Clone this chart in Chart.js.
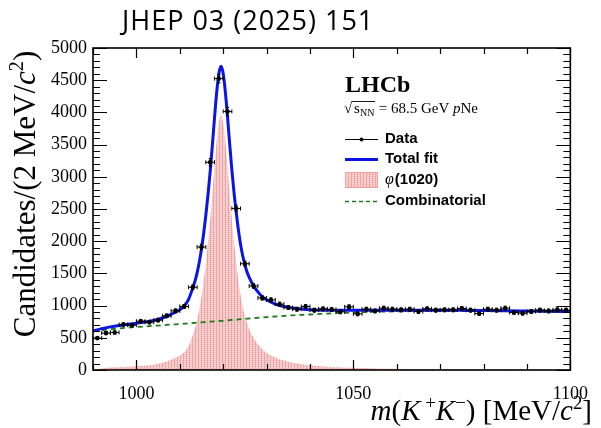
<!DOCTYPE html>
<html>
<head>
<meta charset="utf-8">
<script src="https://cdn.jsdelivr.net/npm/chart.js@4.4.1/dist/chart.umd.min.js"></script>
<style>
  html, body { margin: 0; padding: 0; background: #fff; }
  #wrap { position: relative; width: 601px; height: 428px; }
</style>
</head>
<body>
<div id="wrap"><canvas id="massChart" width="601" height="428"></canvas></div>
<script>
// m(K+K-) bin centres [MeV/c^2], 2 MeV bins
const binCentres = [991, 993, 995, 997, 999, 1001, 1003, 1005, 1007, 1009,
    1011, 1013, 1015, 1017, 1019, 1021, 1023, 1025, 1027, 1029,
    1031, 1033, 1035, 1037, 1039, 1041, 1043, 1045, 1047, 1049,
    1051, 1053, 1055, 1057, 1059, 1061, 1063, 1065, 1067, 1069,
    1071, 1073, 1075, 1077, 1079, 1081, 1083, 1085, 1087, 1089,
    1091, 1093, 1095, 1097, 1099];
const candidates = [495, 573, 583, 707, 696, 758, 743, 774, 841, 918,
    986, 1285, 1909, 3225, 4525, 4015, 2508, 1650, 1305, 1119,
    1088, 1022, 970, 944, 986, 929, 949, 939, 903, 980,
    872, 944, 917, 960, 944, 934, 944, 908, 950, 929,
    934, 934, 955, 929, 877, 944, 929, 960, 893, 882,
    908, 929, 917, 934, 929];

// fit curves sampled along the mass axis
const fitMass = [990, 992, 994, 996, 998, 1000, 1002, 1004, 1006, 1008,
    1010, 1011, 1012, 1013, 1013.5, 1014, 1014.5, 1015, 1015.5, 1016,
    1016.5, 1017, 1017.5, 1018, 1018.5, 1019, 1019.5, 1020, 1020.5, 1021,
    1021.5, 1022, 1022.5, 1023, 1023.5, 1024, 1024.5, 1025, 1025.5, 1026,
    1027, 1028, 1029, 1030, 1032, 1034, 1036, 1038, 1040, 1045,
    1050, 1055, 1060, 1065, 1070, 1075, 1080, 1085, 1090, 1095, 1100];
const totalFit = [605, 642, 670, 692, 709, 726, 745, 768, 807, 865,
    936, 994, 1094, 1274, 1379, 1513, 1677, 1881, 2120, 2400,
    2721, 3080, 3485, 3913, 4309, 4600, 4717, 4605, 4320, 3929,
    3507, 3107, 2754, 2455, 2179, 1954, 1774, 1637, 1523, 1438,
    1306, 1213, 1139, 1090, 1024, 986, 963, 947, 936, 928,
    927, 928, 929, 929, 928, 926, 924, 921, 917, 913, 908];
const phiFit = [5, 25, 38, 47, 52, 58, 68, 82, 112, 160,
    222, 275, 370, 545, 647, 778, 940, 1141, 1378, 1655,
    1974, 2330, 2733, 3158, 3552, 3840, 3955, 3840, 3552, 3158,
    2733, 2330, 1974, 1672, 1393, 1165, 982, 842, 726, 638,
    500, 402, 322, 268, 193, 146, 114, 91, 74, 48,
    34, 25, 19, 15, 12, 10, 9, 8, 7, 6, 5];
const combFit = [600, 617, 632, 645, 657, 668, 677, 686, 695, 705,
    714, 719, 724, 729, 732, 735, 737, 740, 742, 745,
    747, 750, 752, 755, 757, 760, 762, 765, 768, 771,
    774, 777, 780, 783, 786, 789, 792, 795, 797, 800,
    806, 811, 817, 822, 831, 840, 849, 856, 862, 880,
    893, 903, 910, 914, 916, 916, 915, 913, 910, 907, 903];

const xTickLabels = [1000, 1050, 1100];

const SERIF = '"Liberation Serif", "Times New Roman", serif';
const SANS = '"Liberation Sans", Arial, sans-serif';

// pink hatched fill like the ROOT pattern
function makePattern() {
    const pc = document.createElement('canvas');
    pc.width = 3; pc.height = 2;
    const p = pc.getContext('2d');
    p.fillStyle = '#f8cccc'; p.fillRect(0, 0, 3, 2);
    p.fillStyle = '#f0a4a4'; p.fillRect(0, 0, 1, 2);
    p.fillStyle = '#f4b6b6'; p.fillRect(2, 0, 1, 1);
    p.fillStyle = '#fce2e2'; p.fillRect(2, 1, 1, 1);
    return document.getElementById('massChart').getContext('2d').createPattern(pc, 'repeat');
}
const pinkFill = makePattern();

function pts(xs, ys) {
    return xs.map((x, i) => ({ x: x, y: ys[i] }));
}

// text with italic / superscript / subscript pieces
function drawRich(ctx, parts, x, y, size, align) {
    let w = 0;
    const items = parts.map(([t, s]) => {
        const small = s.includes('sup') || s.includes('sub');
        const fs = small ? size * 0.65 : size;
        const font = (s.startsWith('i') ? 'italic ' : '') + fs + 'px ' + SERIF;
        ctx.font = font;
        const dy = s.includes('sup') ? -size * 0.38 : s.includes('sub') ? size * 0.2 : 0;
        const it = { t: t, font: font, dx: w, dy: dy };
        w += ctx.measureText(t).width;
        return it;
    });
    const x0 = align === 'right' ? x - w : align === 'center' ? x - w / 2 : x;
    items.forEach(it => {
        ctx.font = it.font;
        ctx.fillText(it.t, x0 + it.dx, y + it.dy);
    });
    return w;
}

const errorBars = {
    id: 'errorBars',
    afterDatasetsDraw(chart) {
        const ctx = chart.ctx, xs = chart.scales.x, ys = chart.scales.y;
        ctx.save();
        ctx.strokeStyle = '#000';
        ctx.lineWidth = 1;
        binCentres.forEach((m, i) => {
            const n = candidates[i], e = Math.sqrt(n);
            const px = xs.getPixelForValue(m), py = ys.getPixelForValue(n);
            const xl = xs.getPixelForValue(m - 1), xr = xs.getPixelForValue(m + 1);
            const yt = ys.getPixelForValue(n + e), yb = ys.getPixelForValue(n - e);
            ctx.beginPath();
            ctx.moveTo(xl, py); ctx.lineTo(xr, py);
            ctx.moveTo(xl, py - 2); ctx.lineTo(xl, py + 2);
            ctx.moveTo(xr, py - 2); ctx.lineTo(xr, py + 2);
            ctx.moveTo(px, yt); ctx.lineTo(px, yb);
            ctx.moveTo(px - 1.5, yt); ctx.lineTo(px + 1.5, yt);
            ctx.moveTo(px - 1.5, yb); ctx.lineTo(px + 1.5, yb);
            ctx.stroke();
        });
        ctx.restore();
    }
};

const frameAndText = {
    id: 'frameAndText',
    afterDraw(chart) {
        const ctx = chart.ctx, xs = chart.scales.x, ys = chart.scales.y;
        const a = chart.chartArea;
        ctx.save();
        ctx.strokeStyle = '#000';
        ctx.fillStyle = '#000';

        // ticks inside the frame on all four sides
        ctx.lineWidth = 1.2;
        ctx.beginPath();
        for (let v = 990; v <= 1100; v += 10) {
            const px = Math.round(xs.getPixelForValue(v)) + 0.5;
            const len = v % 50 === 0 ? 10 : 6;
            ctx.moveTo(px, a.bottom); ctx.lineTo(px, a.bottom - len);
            ctx.moveTo(px, a.top); ctx.lineTo(px, a.top + len);
        }
        for (let v = 0; v <= 5000; v += 100) {
            const py = Math.round(ys.getPixelForValue(v)) + 0.5;
            const len = v % 500 === 0 ? 14 : 7;
            ctx.moveTo(a.left, py); ctx.lineTo(a.left + len, py);
            ctx.moveTo(a.right, py); ctx.lineTo(a.right - len, py);
        }
        ctx.stroke();
        ctx.lineWidth = 1.6;
        ctx.strokeRect(a.left, a.top, a.right - a.left, a.bottom - a.top);

        // page title
        ctx.font = '27px "Open Sans", sans-serif';
        ctx.textBaseline = 'alphabetic';
        ctx.letterSpacing = '1px';
        ctx.fillText('JHEP 03 (2025) 151', 122, 30);
        ctx.letterSpacing = '0px';

        // axis titles
        drawRich(ctx, [['m', 'i'], ['(', ''], ['K', 'i'], [' +', 'sup'], ['K', 'i'], ['\u2212', 'sup'],
            [') [MeV/', ''], ['c', 'i'], ['2', 'sup'], [']', '']], 592, 420, 29, 'right');
        ctx.save();
        ctx.translate(35, 194);
        ctx.rotate(-Math.PI / 2);
        drawRich(ctx, [['Candidates/(2 MeV/', ''], ['c', 'i'], ['2', 'sup'], [')', '']], 0, 0, 31, 'center');
        ctx.restore();

        // LHCb label
        ctx.font = 'bold 24px ' + SERIF;
        ctx.fillText('LHCb', 345, 92);
        ctx.font = '15px ' + SERIF;
        ctx.fillText('\u221A', 344, 113);
        const sx = 354;
        ctx.font = '15px ' + SERIF;
        ctx.fillText('s', sx, 113);
        ctx.font = '10px ' + SERIF;
        ctx.fillText('NN', sx + 6, 116);
        ctx.lineWidth = 0.9;
        ctx.beginPath();
        ctx.moveTo(352, 101.5); ctx.lineTo(sx + 21, 101.5);
        ctx.stroke();
        drawRich(ctx, [[' = 68.5 GeV ', ''], ['p', 'i'], ['Ne', '']], sx + 21, 113, 15, 'left');

        // legend
        const lx0 = 345, lx1 = 378, tx = 385;
        ctx.font = 'bold 15px ' + SANS;
        ctx.textBaseline = 'middle';
        // Data
        ctx.lineWidth = 1;
        ctx.beginPath(); ctx.moveTo(lx0, 139.5); ctx.lineTo(lx1, 139.5); ctx.stroke();
        ctx.beginPath(); ctx.arc((lx0 + lx1) / 2, 139.5, 2, 0, Math.PI * 2); ctx.fill();
        ctx.fillText('Data', tx, 139);
        // Total fit
        ctx.strokeStyle = '#0a14e6';
        ctx.lineWidth = 3;
        ctx.beginPath(); ctx.moveTo(lx0, 159.5); ctx.lineTo(lx1, 159.5); ctx.stroke();
        ctx.fillText('Total fit', tx, 159);
        // phi(1020)
        ctx.fillStyle = pinkFill;
        ctx.fillRect(lx0, 172, lx1 - lx0, 16);
        ctx.strokeStyle = '#f2a0a0';
        ctx.lineWidth = 1;
        ctx.strokeRect(lx0 + 0.5, 172.5, lx1 - lx0 - 1, 15);
        ctx.fillStyle = '#000';
        ctx.font = 'italic 16px ' + SERIF;
        ctx.fillText('\u03C6', tx, 180);
        const pw = ctx.measureText('\u03C6').width;
        ctx.font = 'bold 15px ' + SANS;
        ctx.fillText('(1020)', tx + pw + 1, 180);
        // Combinatorial
        ctx.strokeStyle = '#1c7a1c';
        ctx.lineWidth = 1.5;
        ctx.setLineDash([4, 3]);
        ctx.beginPath(); ctx.moveTo(lx0, 201.5); ctx.lineTo(lx1, 201.5); ctx.stroke();
        ctx.setLineDash([]);
        ctx.fillText('Combinatorial', tx, 201);
        ctx.restore();
    }
};

new Chart(document.getElementById('massChart'), {
    type: 'scatter',
    data: {
        datasets: [
            {
                label: 'Data',
                data: pts(binCentres, candidates),
                pointRadius: 2.3,
                pointBackgroundColor: '#000',
                pointBorderWidth: 0,
                showLine: false
            },
            {
                label: 'Total fit',
                data: pts(fitMass, totalFit),
                showLine: true,
                borderColor: '#0a14e6',
                borderWidth: 3,
                pointRadius: 0,
                cubicInterpolationMode: 'monotone'
            },
            {
                label: 'Combinatorial',
                data: pts(fitMass, combFit),
                showLine: true,
                borderColor: '#1c7a1c',
                borderWidth: 1.8,
                borderDash: [5, 4],
                pointRadius: 0,
                cubicInterpolationMode: 'monotone'
            },
            {
                label: '\u03C6(1020)',
                data: pts(fitMass, phiFit),
                showLine: true,
                borderWidth: 0,
                borderColor: 'rgba(0,0,0,0)',
                backgroundColor: pinkFill,
                fill: 'origin',
                pointRadius: 0,
                cubicInterpolationMode: 'monotone'
            }
        ]
    },
    options: {
        responsive: false,
        animation: false,
        layout: { padding: { left: 0, right: 20, top: 48, bottom: 0 } },
        plugins: {
            legend: { display: false },
            tooltip: { enabled: false }
        },
        scales: {
            x: {
                type: 'linear',
                min: 990,
                max: 1100,
                grid: { display: false, drawTicks: false },
                border: { display: false },
                afterBuildTicks: (scale) => { scale.ticks = xTickLabels.map(v => ({ value: v })); },
                afterFit: (scale) => { scale.height = 58; },
                ticks: {
                    color: '#000',
                    padding: 13,
                    maxRotation: 0,
                    font: { family: SERIF, size: 18 },
                    callback: (v) => String(v)
                }
            },
            y: {
                min: 0,
                max: 5000,
                grid: { display: false, drawTicks: false },
                border: { display: false },
                afterFit: (scale) => { scale.width = 93; },
                ticks: {
                    stepSize: 500,
                    color: '#000',
                    padding: 6,
                    font: { family: SERIF, size: 18 },
                    callback: (v) => String(v)
                }
            }
        }
    },
    plugins: [errorBars, frameAndText]
});
</script>
</body>
</html>
